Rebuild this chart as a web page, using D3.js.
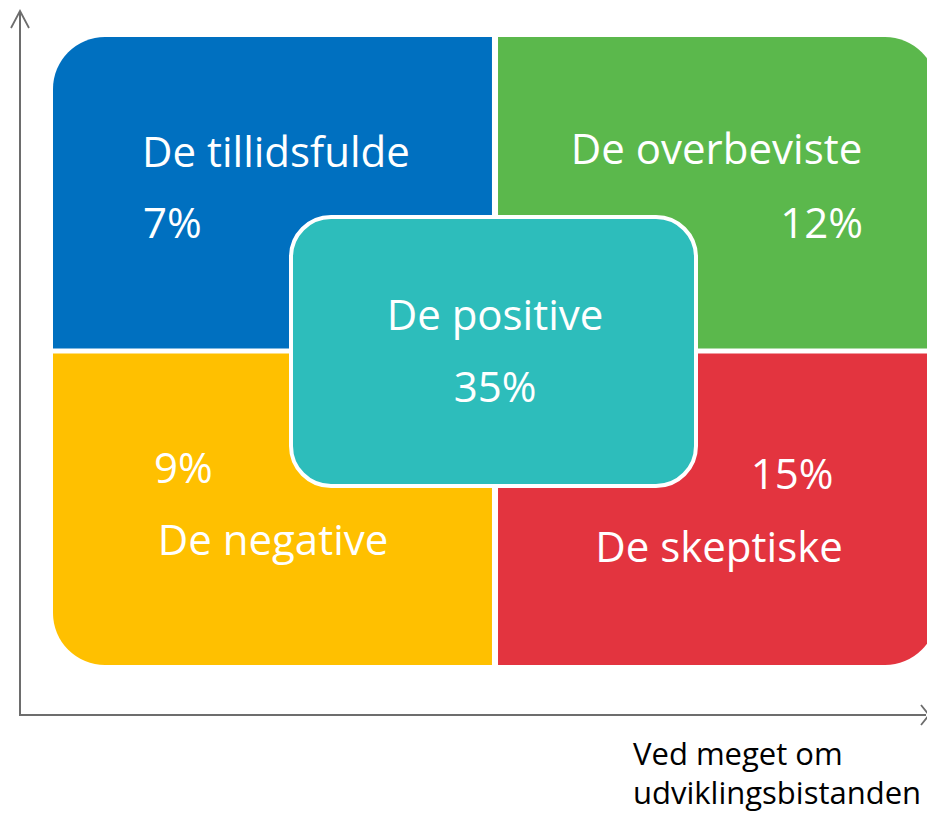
<!DOCTYPE html>
<html>
<head>
<meta charset="utf-8">
<script src="https://cdn.jsdelivr.net/npm/d3@7"></script>
<style>
  body { margin: 0; background: #fff; }
  svg { display: block; }
  text { font-family: "Open Sans", "Noto Sans", sans-serif; }
</style>
</head>
<body>
<svg id="chart" width="927" height="816"></svg>
<script>
// Data
const segments = ["De tillidsfulde", "De overbeviste", "De negative", "De skeptiske"];
const shares = [7, 12, 9, 15];
const centerSegment = "De positive";
const centerShare = 35;
const cols = ["left", "right", "left", "right"];
const rows = ["top", "top", "bottom", "bottom"];
const colors = ["#0070C0", "#5BB84C", "#FFC000", "#E3343F"];
const centerColor = "#2DBDBB";
const axisLabel = ["Ved meget om", "udviklingsbistanden"];

const svg = d3.select("#chart");

const x = d3.scaleBand().domain(["left", "right"]).range([53, 937]).paddingInner(0.0136);
const y = d3.scaleBand().domain(["top", "bottom"]).range([37, 665]).paddingInner(0.016);

// path for rect with individual corner radii [tl, tr, br, bl]
function roundRect(x0, y0, w, h, r) {
  const [tl, tr, br, bl] = r;
  return `M${x0 + tl},${y0}` +
    `H${x0 + w - tr}` + (tr ? `A${tr},${tr} 0 0 1 ${x0 + w},${y0 + tr}` : "") +
    `V${y0 + h - br}` + (br ? `A${br},${br} 0 0 1 ${x0 + w - br},${y0 + h}` : "") +
    `H${x0 + bl}` + (bl ? `A${bl},${bl} 0 0 1 ${x0},${y0 + h - bl}` : "") +
    `V${y0 + tl}` + (tl ? `A${tl},${tl} 0 0 1 ${x0 + tl},${y0}` : "") + "Z";
}

const R = 52;
const corners = {
  "left-top": [R, 0, 0, 0],
  "right-top": [0, R, 0, 0],
  "left-bottom": [0, 0, 0, R],
  "right-bottom": [0, 0, R, 0]
};

const quads = segments.map((s, i) => ({ name: s, share: shares[i], col: cols[i], row: rows[i], color: colors[i] }));

svg.selectAll("path.quad")
  .data(quads)
  .enter().append("path")
  .attr("class", "quad")
  .attr("fill", d => d.color)
  .attr("d", d => roundRect(x(d.col), y(d.row), x.bandwidth(), y.bandwidth(), corners[d.col + "-" + d.row]));

// label layout per quadrant (offsets from quadrant corner)
const labelPos = {
  "left-top": { nx: 89, ny: 130, px: 90, py: 201, anchor: "start", panchor: "start" },
  "right-top": { nx: 218.5, ny: 127, px: 365, py: 201, anchor: "middle", panchor: "end" },
  "left-bottom": { nx: 220, ny: 201.5, px: 101, py: 129.5, anchor: "middle", panchor: "start" },
  "right-bottom": { nx: 221, ny: 208.5, px: 294, py: 135.5, anchor: "middle", panchor: "middle" }
};

const fs = 42;

const labels = svg.selectAll("g.lab")
  .data(quads)
  .enter().append("g")
  .attr("class", "lab")
  .attr("transform", d => `translate(${x(d.col)},${y(d.row)})`);

labels.append("text")
  .attr("x", d => labelPos[d.col + "-" + d.row].nx)
  .attr("y", d => labelPos[d.col + "-" + d.row].ny)
  .attr("text-anchor", d => labelPos[d.col + "-" + d.row].anchor)
  .attr("fill", "#fff")
  .attr("font-size", fs)
  .text(d => d.name);

labels.append("text")
  .attr("x", d => labelPos[d.col + "-" + d.row].px)
  .attr("y", d => labelPos[d.col + "-" + d.row].py)
  .attr("text-anchor", d => labelPos[d.col + "-" + d.row].panchor)
  .attr("fill", "#fff")
  .attr("font-size", fs)
  .text(d => d.share + "%");

// Center box
const cx0 = 291, cy0 = 217, cw = 405, ch = 269;
svg.append("path")
  .attr("d", roundRect(cx0, cy0, cw, ch, [40, 40, 40, 40]))
  .attr("fill", centerColor)
  .attr("stroke", "#fff")
  .attr("stroke-width", 4);

svg.append("text")
  .attr("x", 495)
  .attr("y", 330)
  .attr("text-anchor", "middle")
  .attr("fill", "#fff")
  .attr("font-size", fs)
  .text(centerSegment);

svg.append("text")
  .attr("x", 495)
  .attr("y", 402)
  .attr("text-anchor", "middle")
  .attr("fill", "#fff")
  .attr("font-size", fs)
  .text(centerShare + "%");

// Axes
const axisColor = "#6d6d6d";
svg.append("path")
  .attr("d", "M20,716V11")
  .attr("stroke", axisColor).attr("stroke-width", 2).attr("fill", "none");
svg.append("path")
  .attr("d", "M11,28L20,11L29,28")
  .attr("stroke", axisColor).attr("stroke-width", 1.8).attr("fill", "none");
svg.append("path")
  .attr("d", "M19,715H926")
  .attr("stroke", axisColor).attr("stroke-width", 2).attr("fill", "none");
svg.append("path")
  .attr("d", "M921,705L929,715L921,725")
  .attr("stroke", axisColor).attr("stroke-width", 1.8).attr("fill", "none");

svg.selectAll("text.axl")
  .data(axisLabel)
  .enter().append("text")
  .attr("class", "axl")
  .attr("x", 633)
  .attr("y", (d, i) => 765 + i * 39)
  .attr("fill", "#000")
  .attr("font-size", 31)
  .text(d => d);
</script>
</body>
</html>
